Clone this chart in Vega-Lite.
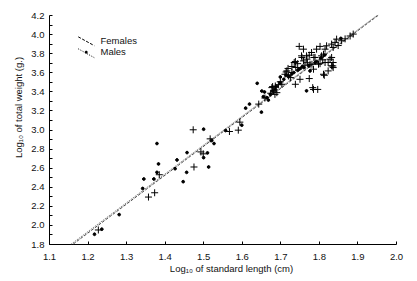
{
  "$schema": "https://vega.github.io/schema/vega-lite/v6.json",
  "width": 347,
  "height": 229,
  "autosize": "none",
  "padding": {"left": 49, "top": 15, "right": 21, "bottom": 37},
  "background": "white",
  "config": {
    "view": {"stroke": null},
    "font": "Liberation Sans",
    "axis": {
      "grid": false,
      "domainColor": "black",
      "domainWidth": 1,
      "tickColor": "black",
      "tickWidth": 1,
      "tickSize": -3,
      "labelOverlap": false,
      "labelFont": "Liberation Sans",
      "labelFontSize": 9.5,
      "labelColor": "#111",
      "titleFont": "Liberation Sans",
      "titleFontSize": 9.5,
      "titleFontWeight": "normal",
      "titleColor": "#111"
    }
  },
  "datasets": {
    "fit": [
      {"group": "Females fit", "x": 1.163, "y": 1.8},
      {"group": "Females fit", "x": 1.955, "y": 4.2},
      {"group": "Males fit", "x": 1.158, "y": 1.8},
      {"group": "Males fit", "x": 1.952, "y": 4.2}
    ],
    "pts": [
      {"sex": "Males", "x": 1.218, "y": 1.902},
      {"sex": "Males", "x": 1.237, "y": 1.955},
      {"sex": "Males", "x": 1.282, "y": 2.108},
      {"sex": "Males", "x": 1.343, "y": 2.382},
      {"sex": "Males", "x": 1.346, "y": 2.481},
      {"sex": "Males", "x": 1.372, "y": 2.481},
      {"sex": "Males", "x": 1.380, "y": 2.853},
      {"sex": "Males", "x": 1.384, "y": 2.639},
      {"sex": "Males", "x": 1.380, "y": 2.551},
      {"sex": "Males", "x": 1.427, "y": 2.589},
      {"sex": "Males", "x": 1.432, "y": 2.681},
      {"sex": "Males", "x": 1.458, "y": 2.758},
      {"sex": "Males", "x": 1.457, "y": 2.551},
      {"sex": "Males", "x": 1.448, "y": 2.453},
      {"sex": "Males", "x": 1.501, "y": 3.003},
      {"sex": "Males", "x": 1.522, "y": 2.884},
      {"sex": "Males", "x": 1.528, "y": 2.853},
      {"sex": "Males", "x": 1.511, "y": 2.755},
      {"sex": "Males", "x": 1.501, "y": 2.705},
      {"sex": "Males", "x": 1.514, "y": 2.607},
      {"sex": "Males", "x": 1.558, "y": 2.989},
      {"sex": "Males", "x": 1.600, "y": 3.045},
      {"sex": "Males", "x": 1.610, "y": 3.224},
      {"sex": "Males", "x": 1.620, "y": 3.266},
      {"sex": "Males", "x": 1.651, "y": 3.182},
      {"sex": "Males", "x": 1.640, "y": 3.484},
      {"sex": "Males", "x": 1.652, "y": 3.403},
      {"sex": "Males", "x": 1.659, "y": 3.393},
      {"sex": "Males", "x": 1.656, "y": 3.344},
      {"sex": "Males", "x": 1.665, "y": 3.334},
      {"sex": "Males", "x": 1.669, "y": 3.308},
      {"sex": "Males", "x": 1.674, "y": 3.368},
      {"sex": "Males", "x": 1.687, "y": 3.420},
      {"sex": "Males", "x": 1.700, "y": 3.490},
      {"sex": "Males", "x": 1.709, "y": 3.526},
      {"sex": "Males", "x": 1.722, "y": 3.561},
      {"sex": "Males", "x": 1.735, "y": 3.597},
      {"sex": "Males", "x": 1.748, "y": 3.632},
      {"sex": "Males", "x": 1.761, "y": 3.649},
      {"sex": "Males", "x": 1.774, "y": 3.667},
      {"sex": "Males", "x": 1.768, "y": 3.405},
      {"sex": "Males", "x": 1.745, "y": 3.620},
      {"sex": "Males", "x": 1.752, "y": 3.640},
      {"sex": "Males", "x": 1.790, "y": 3.700},
      {"sex": "Males", "x": 1.794, "y": 3.712},
      {"sex": "Males", "x": 1.777, "y": 3.614},
      {"sex": "Males", "x": 1.805, "y": 3.750},
      {"sex": "Males", "x": 1.815, "y": 3.780},
      {"sex": "Males", "x": 1.857, "y": 3.955},
      {"sex": "Males", "x": 1.700, "y": 3.550},
      {"sex": "Males", "x": 1.715, "y": 3.570},
      {"sex": "Males", "x": 1.730, "y": 3.585},
      {"sex": "Males", "x": 1.757, "y": 3.660},
      {"sex": "Males", "x": 1.690, "y": 3.450},
      {"sex": "Males", "x": 1.680, "y": 3.400},
      {"sex": "Females", "x": 1.228, "y": 1.947},
      {"sex": "Females", "x": 1.358, "y": 2.292},
      {"sex": "Females", "x": 1.374, "y": 2.337},
      {"sex": "Females", "x": 1.386, "y": 2.526},
      {"sex": "Females", "x": 1.474, "y": 2.997},
      {"sex": "Females", "x": 1.476, "y": 2.607},
      {"sex": "Females", "x": 1.494, "y": 2.765},
      {"sex": "Females", "x": 1.500, "y": 2.745},
      {"sex": "Females", "x": 1.518, "y": 2.902},
      {"sex": "Females", "x": 1.568, "y": 2.979},
      {"sex": "Females", "x": 1.591, "y": 2.993},
      {"sex": "Females", "x": 1.595, "y": 3.077},
      {"sex": "Females", "x": 1.644, "y": 3.266},
      {"sex": "Females", "x": 1.680, "y": 3.450},
      {"sex": "Females", "x": 1.682, "y": 3.403},
      {"sex": "Females", "x": 1.686, "y": 3.368},
      {"sex": "Females", "x": 1.691, "y": 3.386},
      {"sex": "Females", "x": 1.678, "y": 3.439},
      {"sex": "Females", "x": 1.687, "y": 3.456},
      {"sex": "Females", "x": 1.704, "y": 3.474},
      {"sex": "Females", "x": 1.717, "y": 3.614},
      {"sex": "Females", "x": 1.730, "y": 3.597},
      {"sex": "Females", "x": 1.726, "y": 3.544},
      {"sex": "Females", "x": 1.739, "y": 3.474},
      {"sex": "Females", "x": 1.715, "y": 3.603},
      {"sex": "Females", "x": 1.712, "y": 3.579},
      {"sex": "Females", "x": 1.721, "y": 3.561},
      {"sex": "Females", "x": 1.739, "y": 3.713},
      {"sex": "Females", "x": 1.736, "y": 3.702},
      {"sex": "Females", "x": 1.749, "y": 3.871},
      {"sex": "Females", "x": 1.756, "y": 3.755},
      {"sex": "Females", "x": 1.769, "y": 3.737},
      {"sex": "Females", "x": 1.782, "y": 3.684},
      {"sex": "Females", "x": 1.787, "y": 3.755},
      {"sex": "Females", "x": 1.755, "y": 3.772},
      {"sex": "Females", "x": 1.775, "y": 3.779},
      {"sex": "Females", "x": 1.764, "y": 3.674},
      {"sex": "Females", "x": 1.751, "y": 3.526},
      {"sex": "Females", "x": 1.775, "y": 3.534},
      {"sex": "Females", "x": 1.784, "y": 3.439},
      {"sex": "Females", "x": 1.786, "y": 3.420},
      {"sex": "Females", "x": 1.797, "y": 3.420},
      {"sex": "Females", "x": 1.814, "y": 3.568},
      {"sex": "Females", "x": 1.812, "y": 3.579},
      {"sex": "Females", "x": 1.836, "y": 3.666},
      {"sex": "Females", "x": 1.803, "y": 3.871},
      {"sex": "Females", "x": 1.820, "y": 3.877},
      {"sex": "Females", "x": 1.833, "y": 3.895},
      {"sex": "Females", "x": 1.842, "y": 3.913},
      {"sex": "Females", "x": 1.837, "y": 3.860},
      {"sex": "Females", "x": 1.812, "y": 3.789},
      {"sex": "Females", "x": 1.833, "y": 3.755},
      {"sex": "Females", "x": 1.824, "y": 3.702},
      {"sex": "Females", "x": 1.837, "y": 3.702},
      {"sex": "Females", "x": 1.859, "y": 3.930},
      {"sex": "Females", "x": 1.868, "y": 3.950},
      {"sex": "Females", "x": 1.881, "y": 3.980},
      {"sex": "Females", "x": 1.889, "y": 4.000},
      {"sex": "Females", "x": 1.846, "y": 3.947},
      {"sex": "Females", "x": 1.816, "y": 3.842},
      {"sex": "Females", "x": 1.760, "y": 3.842},
      {"sex": "Females", "x": 1.768, "y": 3.772},
      {"sex": "Females", "x": 1.781, "y": 3.807},
      {"sex": "Females", "x": 1.790, "y": 3.755},
      {"sex": "Females", "x": 1.807, "y": 3.772},
      {"sex": "Females", "x": 1.829, "y": 3.737},
      {"sex": "Females", "x": 1.816, "y": 3.702},
      {"sex": "Females", "x": 1.833, "y": 3.667},
      {"sex": "Females", "x": 1.837, "y": 3.649},
      {"sex": "Females", "x": 1.760, "y": 3.719},
      {"sex": "Females", "x": 1.777, "y": 3.684},
      {"sex": "Females", "x": 1.799, "y": 3.684},
      {"sex": "Females", "x": 1.786, "y": 3.632},
      {"sex": "Females", "x": 1.824, "y": 3.614},
      {"sex": "Females", "x": 1.803, "y": 3.690},
      {"sex": "Females", "x": 1.794, "y": 3.842},
      {"sex": "Females", "x": 1.740, "y": 3.650},
      {"sex": "Females", "x": 1.700, "y": 3.500},
      {"sex": "Females", "x": 1.695, "y": 3.470},
      {"sex": "Females", "x": 1.675, "y": 3.380},
      {"sex": "Females", "x": 1.660, "y": 3.330},
      {"sex": "Females", "x": 1.745, "y": 3.690},
      {"sex": "Females", "x": 1.730, "y": 3.660},
      {"sex": "Females", "x": 1.720, "y": 3.640},
      {"sex": "Females", "x": 1.810, "y": 3.730},
      {"sex": "Females", "x": 1.850, "y": 3.880},
      {"sex": "Females", "x": 1.770, "y": 3.700}
    ]
  },
  "encoding": {
    "x": {
      "field": "x", "type": "quantitative",
      "scale": {"domain": [1.1, 2.0], "nice": false, "zero": false},
      "axis": {
        "title": "Log₁₀ of standard length (cm)",
        "values": [1.1, 1.2, 1.3, 1.4, 1.5, 1.6, 1.7, 1.8, 1.9, 2.0],
        "format": ".1f",
        "labelOverlap": false,
        "labelFlush": false,
        "labelPadding": 10,
        "titleX": 182,
        "titleY": 24,
        "titleBaseline": "middle"
      }
    },
    "y": {
      "field": "y", "type": "quantitative",
      "scale": {"domain": [1.8, 4.2], "nice": false, "zero": false},
      "axis": {
        "title": "Log₁₀ of total weight (g.)",
        "values": [1.8, 1.9, 2.0, 2.1, 2.2, 2.3, 2.4, 2.5, 2.6, 2.7, 2.8, 2.9, 3.0, 3.1, 3.2, 3.3, 3.4, 3.5, 3.6, 3.7, 3.8, 3.9, 4.0, 4.1, 4.2],
        "labelExpr": "round(datum.value * 10) % 2 == 0 ? format(datum.value, '.1f') : ''",
        "labelOverlap": false,
        "labelFlush": false,
        "labelPadding": 8,
        "titleX": -31,
        "titleY": 92,
        "titleAngle": -90,
        "titleBaseline": "middle",
        "titleAlign": "center"
      }
    }
  },
  "layer": [
    {
      "data": {"name": "fit"},
      "mark": {"type": "line", "color": "#444", "strokeWidth": 1},
      "encoding": {
        "strokeDash": {
          "field": "group", "type": "nominal",
          "scale": {"domain": ["Females fit", "Males fit"], "range": [[3, 1.5], [1, 1.5]]},
          "legend": {
            "orient": "none",
            "legendX": 32.5,
            "legendY": 21.5,
            "title": null,
            "padding": 0,
            "symbolType": "M-2.29,-1.26L2.29,1.26",
            "symbolSize": 49,
            "symbolStrokeColor": "black",
            "symbolStrokeWidth": 1,
            "labelOffset": 9.5,
            "labelFontSize": 9.5,
            "labelExpr": "''",
            "rowPadding": -2.5
          }
        }
      }
    },
    {
      "data": {"name": "pts"},
      "mark": {"type": "point", "filled": false, "fill": "black", "stroke": "black", "color": "black", "strokeWidth": 1, "size": 49, "opacity": 1},
      "encoding": {
        "shape": {
          "field": "sex", "type": "nominal",
          "scale": {"domain": ["Females", "Males"], "range": ["M-1,0L1,0M0,-1L0,1", "M0.4,0A0.4,0.4,0,1,1,-0.4,0A0.4,0.4,0,1,1,0.4,0"]},
          "legend": {
            "orient": "none",
            "legendX": 32.5,
            "legendY": 21.5,
            "title": null,
            "padding": 0,
            "symbolSize": 49,
            "symbolStrokeColor": "black",
            "symbolStrokeWidth": 1,
            "symbolFillColor": "black",
            "labelOffset": 9.5,
            "labelFont": "Liberation Sans",
            "labelFontSize": 9.5,
            "labelColor": "#111",
            "rowPadding": -2.5
          }
        }
      }
    }
  ]
}
